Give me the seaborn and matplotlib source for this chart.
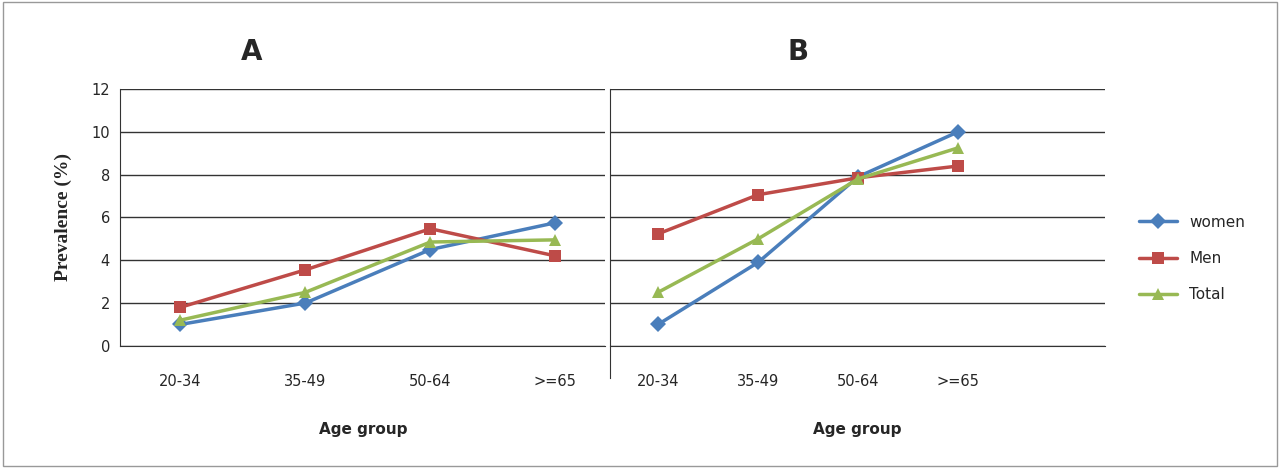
import matplotlib
matplotlib.use("Agg")
import matplotlib.pyplot as plt
import seaborn as sns
import pandas as pd

ages = ["20-34", "35-49", "50-64", ">=65"]
a_women = [1.0, 2.0, 4.5, 5.75]
a_men = [1.8, 3.55, 5.47, 4.2]
a_total = [1.2, 2.5, 4.85, 4.95]
b_women = [1.0, 3.9, 7.9, 10.0]
b_men = [5.23, 7.06, 7.85, 8.4]
b_total = [2.5, 5.0, 7.8, 9.25]
series = ["women", "Men", "Total"]
colors = {"women": "#4A7EBB", "Men": "#BE4B48", "Total": "#98B954"}
markers = {"women": "D", "Men": "s", "Total": "^"}

def frame(w, m, t):
    rows = []
    for name, vals in zip(series, [w, m, t]):
        for i, v in enumerate(vals):
            rows.append({"x": i, "age": ages[i], "series": name, "v": v})
    return pd.DataFrame(rows)

sns.set_style("white")
fig = plt.figure(figsize=(12.8, 4.68), dpi=100)
fig.patches.append(plt.Rectangle((0.002, 0.004), 0.996, 0.992, transform=fig.transFigure,
                                 fill=False, edgecolor="#999999", lw=1))
axA = fig.add_axes([0.094, 0.261, 0.379, 0.549])
axB = fig.add_axes([0.4766, 0.261, 0.387, 0.549])

for ax, df, xl, title in [(axA, frame(a_women, a_men, a_total), (-0.48, 3.4), "A"),
                          (axB, frame(b_women, b_men, b_total), (-0.48, 4.47), "B")]:
    sns.lineplot(data=df, x="x", y="v", hue="series", style="series", palette=colors,
                 markers=markers, dashes=False, markersize=8, lw=2.5,
                 markeredgewidth=0, ax=ax, legend=(ax is axB))
    ax.set_xlim(*xl)
    ax.set_ylim(0, 12)
    ax.set_yticks(range(0, 13, 2))
    ax.yaxis.grid(True, color="#333333", lw=1)
    ax.set_axisbelow(True)
    ax.set_xticks(range(4))
    ax.set_xticklabels(ages)
    ax.tick_params(axis="x", length=0, pad=20, labelsize=10.5)
    for s in ["top", "right"]:
        ax.spines[s].set_visible(False)
    ax.spines["bottom"].set_color("#333333")
    ax.spines["left"].set_color("#333333")
    ax.set_xlabel("Age group", fontsize=11, fontweight="bold", labelpad=24)

axA.set_title("A", fontsize=20, fontweight="bold", x=0.27, y=1.08)
axA.tick_params(axis="y", labelsize=10.5, length=4)
axA.set_ylabel("Prevalence (%)", family="Liberation Serif", fontsize=14, fontweight="bold", labelpad=14)
axB.set_ylabel("")
axB.tick_params(axis="y", left=False, labelleft=False)
axB.spines["left"].set_bounds(-1.5, 12)
axB.spines["left"].set_clip_on(False)
axB.set_title("B", fontsize=20, fontweight="bold", x=0.38, y=1.08)

h, l = axB.get_legend_handles_labels()
axB.legend(h, l, loc="center left", bbox_to_anchor=(1.04, 0.34), frameon=False,
           fontsize=11, handlelength=2.5, labelspacing=1.4)
fig.savefig("out.png", dpi=100)
